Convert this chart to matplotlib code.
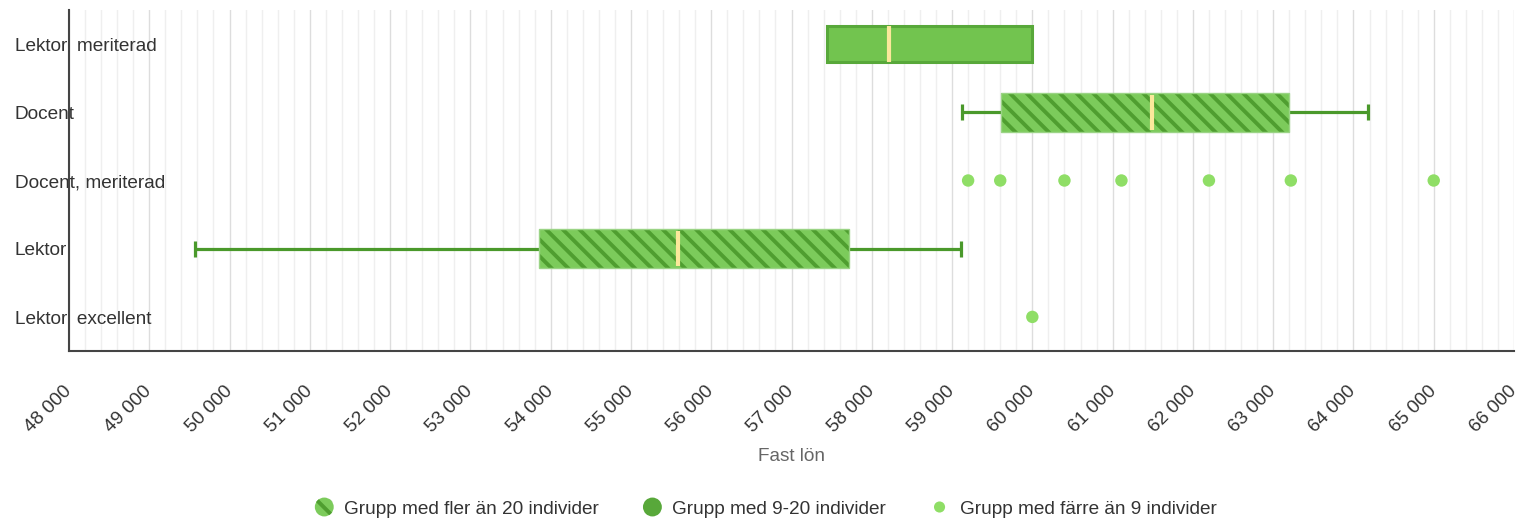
import matplotlib
matplotlib.use("Agg")
import matplotlib.pyplot as plt
import matplotlib.patches as mpatches
from matplotlib.legend_handler import HandlerPatch
from matplotlib.ticker import MultipleLocator, FuncFormatter

plt.rcParams['font.family'] = ['Liberation Sans', 'DejaVu Sans']
plt.rcParams['hatch.linewidth'] = 2.8

# categories, top to bottom
categories = ["Lektor, meriterad", "Docent", "Docent, meriterad", "Lektor", "Lektor, excellent"]

# box groups: category, whisker low, q1, median, q3, whisker high, group
box_cats = ["Lektor, meriterad", "Docent", "Lektor"]
box_lo = [57440, 59120, 49570]
box_q1 = [57440, 59610, 53860]
box_med = [58210, 61490, 55580]
box_q3 = [60000, 63200, 57720]
box_hi = [60000, 64180, 59110]
box_group = ["9-20", ">20", ">20"]

# small groups shown as single points
dot_cats = ["Docent, meriterad"] * 7 + ["Lektor, excellent"]
dot_vals = [59200, 59600, 60400, 61110, 62200, 63220, 65000, 60000]

legend_labels = ["Grupp med fler än 20 individer", "Grupp med 9-20 individer",
                 "Grupp med färre än 9 individer"]

stripe_dark = '#4f9e30'
stripe_light = '#7ccb5b'
mid_green = '#72c44f'
edge_green = '#58a83a'
whisker_green = '#4a992b'
dot_green = '#8fde66'
median_col = '#fbe89b'
fs = 13.7

fig = plt.figure(figsize=(15.19, 5.19), dpi=100)
ax = fig.add_axes([69 / 1519, 1 - 351 / 519, 1445 / 1519, 341 / 519])

ypos = {c: i for i, c in enumerate(categories)}

for c, lo, q1, med, q3, hi, g in zip(box_cats, box_lo, box_q1, box_med, box_q3, box_hi, box_group):
    y = ypos[c]
    if lo < q1:
        ax.hlines(y, lo, q1, color=whisker_green, lw=2.3, zorder=2)
        ax.vlines(lo, y - 0.12, y + 0.12, color=whisker_green, lw=2.3, zorder=2)
    if hi > q3:
        ax.hlines(y, q3, hi, color=whisker_green, lw=2.3, zorder=2)
        ax.vlines(hi, y - 0.12, y + 0.12, color=whisker_green, lw=2.3, zorder=2)
    if g == ">20":
        ax.barh(y, q3 - q1, left=q1, height=0.57, color=stripe_light,
                edgecolor=stripe_dark, hatch='\\\\', linewidth=0, zorder=3)
        ax.barh(y, q3 - q1, left=q1, height=0.57, fill=False,
                edgecolor='#9bd486', linewidth=1, zorder=3)
    else:
        ax.barh(y, q3 - q1, left=q1, height=0.53, color=mid_green,
                edgecolor=edge_green, linewidth=2.2, zorder=3)
    ax.vlines(med, y - 0.26, y + 0.26, color=median_col, lw=3, zorder=4)

ax.scatter(dot_vals, [ypos[c] for c in dot_cats], s=80, color=dot_green,
           edgecolor='none', zorder=4)

ax.set_xlim(48000, 66000)
ax.set_ylim(4.5, -0.5)
ax.xaxis.set_major_locator(MultipleLocator(1000))
ax.xaxis.set_minor_locator(MultipleLocator(200))
ax.xaxis.set_major_formatter(FuncFormatter(lambda v, p: f"{int(v):,}".replace(",", " ")))
ax.grid(True, axis='x', which='major', color='#dddddd', lw=1)
ax.grid(True, axis='x', which='minor', color='#efefef', lw=1)
ax.set_axisbelow(True)

ax.set_yticks(range(len(categories)), categories)
for lab in ax.get_yticklabels():
    lab.set_horizontalalignment('left')
ax.tick_params(axis='y', length=0, pad=39, labelsize=fs, labelcolor='#333333')
ax.tick_params(axis='x', which='both', length=0, pad=27, labelsize=fs, labelcolor='#333333')
for lab in ax.get_xticklabels():
    lab.set_rotation(45)
    lab.set_horizontalalignment('right')
    lab.set_verticalalignment('center')
    lab.set_rotation_mode('anchor')

for s in ['top', 'right']:
    ax.spines[s].set_visible(False)
for s in ['left', 'bottom']:
    ax.spines[s].set_color('#444444')
    ax.spines[s].set_linewidth(1.5)

ax.set_xlabel("Fast lön", fontsize=fs, color='#666666', labelpad=9)


def make_circle(legend, orig_handle, xdescent, ydescent, width, height, fontsize):
    return mpatches.Circle((width / 2 - xdescent, height / 2 - ydescent), orig_handle.get_radius())


handles = [
    mpatches.Circle((0, 0), 6.8, facecolor=stripe_light, edgecolor=stripe_dark, hatch='\\\\', linewidth=0),
    mpatches.Circle((0, 0), 6.8, facecolor=edge_green, edgecolor='none'),
    mpatches.Circle((0, 0), 4.0, facecolor=dot_green, edgecolor='none'),
]
fig.legend(handles, legend_labels, loc='center', bbox_to_anchor=(0.504, 1 - 509 / 519),
           ncol=3, frameon=False, fontsize=fs, handlelength=1.0, handletextpad=0.55,
           columnspacing=2.3, labelcolor='#333333',
           handler_map={mpatches.Circle: HandlerPatch(patch_func=make_circle)})

fig.savefig("out.png", dpi=100)
